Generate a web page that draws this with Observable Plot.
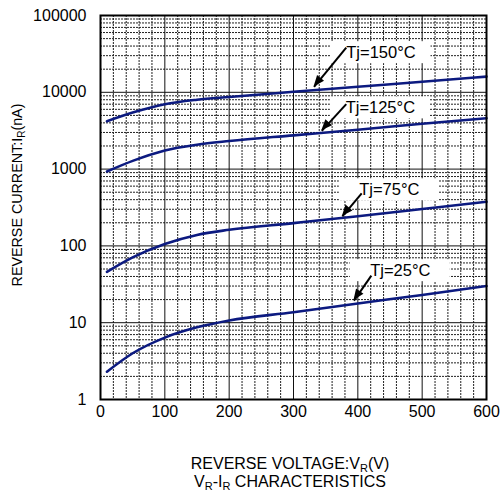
<!DOCTYPE html>
<html>
<head>
<meta charset="utf-8">
<script src="https://cdn.jsdelivr.net/npm/d3@7"></script>
<script src="https://cdn.jsdelivr.net/npm/@observablehq/plot@0.6"></script>
<style>
  body { margin: 0; background: #fff; font-family: "Liberation Sans", Arial, sans-serif; }
  #wrap { position: relative; width: 503px; height: 501px; }
  .cap { position: absolute; left: 0; width: 580px; text-align: center; font-size: 16px; color: #000; line-height: 18px; }
  sub { font-size: 11px; vertical-align: -3px; line-height: 0; }
</style>
</head>
<body>
<div id="wrap">
  <div id="chart"></div>
  <div class="cap" style="top:455px">REVERSE VOLTAGE:V<sub>R</sub>(V)</div>
  <div class="cap" style="top:473px">V<sub>R</sub>-I<sub>R</sub> CHARACTERISTICS</div>
</div>
<script>
// ---- data ----
const voltage = [10, 50, 100, 150, 200, 300, 400, 500, 600];
const ir25  = [2.3, 4.0, 6.4, 8.7, 10.7, 13.7, 17.8, 23, 30];
const ir75  = [46, 71, 106, 139, 162, 198, 243, 302, 375];
const ir125 = [930, 1280, 1750, 2080, 2320, 2750, 3250, 3900, 4600];
const ir150 = [4200, 5450, 7000, 8000, 8700, 10150, 11800, 13700, 16000];
const seriesNames = ["Tj=25°C", "Tj=75°C", "Tj=125°C", "Tj=150°C"];

const xTicks = [0, 100, 200, 300, 400, 500, 600];
const xMinor = [20, 40, 60, 80, 120, 140, 160, 180, 220, 240, 260, 280, 320, 340, 360, 380, 420, 440, 460, 480, 520, 540, 560, 580];
const yTicks = [1, 10, 100, 1000, 10000, 100000];
const yMinorMult = [2, 3, 4, 5, 6, 7, 8, 9];

// annotation anchors (data units)
const labelText = ["Tj=150°C", "Tj=125°C", "Tj=75°C", "Tj=25°C"];
const labelV = [436, 435, 449, 466];
const labelI = [32800, 6270, 538, 47.6];
const arrowFromV = [382, 382, 406, 421];
const arrowFromI = [38100, 7000, 482, 41];
const arrowToV = [332, 344, 376, 394];
const arrowToI = [11750, 3150, 242, 19.4];

// ---- build tables ----
const allSeries = [ir25, ir75, ir125, ir150];
const curveData = allSeries.flatMap((arr, s) => voltage.map((v, i) => ({ v, ir: arr[i], s: seriesNames[s] })));
const yMinor = yTicks.slice(0, -1).flatMap(d => yMinorMult.map(k => k * d));
const xMajorInner = xTicks.slice(1, -1);
const yMajorInner = yTicks.slice(1, -1);
const labels = labelText.map((t, i) => ({ t, v: labelV[i], ir: labelI[i] }));
const arrows = labelText.map((t, i) => ({ x1: arrowFromV[i], y1: arrowFromI[i], x2: arrowToV[i], y2: arrowToI[i] }));

// label box half-size: px -> data units (x: 600V / 386px, y: 1 decade / 76.8px)
const hwV = 50 * 600 / 386;
const hhF = Math.pow(10, 11 / 76.8);
const boxes = labels.map(d => ({ x1: d.v - hwV, x2: d.v + hwV, y1: d.ir / hhF, y2: d.ir * hhF }));

const navy = "#0c1a80";

const chart = Plot.plot({
  width: 503,
  height: 440,
  marginLeft: 100,
  marginRight: 17,
  marginTop: 15,
  marginBottom: 41,
  style: { fontFamily: "'Liberation Sans', Arial, sans-serif", fontSize: "16px", color: "#000", background: "#fff" },
  x: { domain: [0, 600], ticks: xTicks, tickSize: 0, tickPadding: 6, label: null, tickFormat: d => String(d) },
  y: { type: "log", domain: [1, 100000], ticks: yTicks, tickSize: 0, tickPadding: 14, label: null, tickFormat: d => String(d) },
  marks: [
    Plot.ruleY(yMinor, { stroke: "#222", strokeWidth: 1, strokeDasharray: "2,1" }),
    Plot.ruleX(xMinor, { stroke: "#222", strokeWidth: 1, strokeDasharray: "2,1" }),
    Plot.ruleY(yMajorInner, { stroke: "#111", strokeWidth: 1 }),
    Plot.ruleX(xMajorInner, { stroke: "#111", strokeWidth: 1 }),
    Plot.line(curveData, { x: "v", y: "ir", z: "s", stroke: navy, strokeWidth: 2.6, curve: "monotone-x" }),
    Plot.rect(boxes, { x1: "x1", x2: "x2", y1: "y1", y2: "y2", fill: "white" }),
    Plot.text(labels, { x: "v", y: "ir", text: "t", fill: "black", fontSize: 16.5 }),
    Plot.link(arrows, { x1: "x1", y1: "y1", x2: "x2", y2: "y2", stroke: "black", strokeWidth: 2 }),
    Plot.frame({ stroke: "black", strokeWidth: 2 })
  ]
});
document.getElementById("chart").appendChild(chart);

const svg = d3.select(chart);
const sx = chart.scale("x"), sy = chart.scale("y");

// filled arrowheads at the arrow tips, positioned through Plot's scales
const headLen = 11, headHalf = 4.5;
svg.append("g").selectAll("polygon").data(arrows).join("polygon")
  .attr("fill", "black")
  .attr("points", d => {
    const ax = sx.apply(d.x1), ay = sy.apply(d.y1);
    const bx = sx.apply(d.x2), by = sy.apply(d.y2);
    const len = Math.hypot(bx - ax, by - ay);
    const ux = (bx - ax) / len, uy = (by - ay) / len;
    const baseX = bx - ux * headLen, baseY = by - uy * headLen;
    return [[bx, by], [baseX - uy * headHalf, baseY + ux * headHalf], [baseX + uy * headHalf, baseY - ux * headHalf]]
      .map(p => p.join(",")).join(" ");
  });

// rotated y-axis title with subscript
const t = svg.append("text")
  .attr("transform", "translate(22,195) rotate(-90)")
  .attr("text-anchor", "middle")
  .attr("font-family", "'Liberation Sans', Arial, sans-serif")
  .attr("font-size", 14.3)
  .attr("fill", "black");
t.append("tspan").text("REVERSE CURRENT:I");
t.append("tspan").attr("font-size", 10).attr("dy", 3).text("R");
t.append("tspan").attr("dy", -3).text("(nA)");
</script>
</body>
</html>
